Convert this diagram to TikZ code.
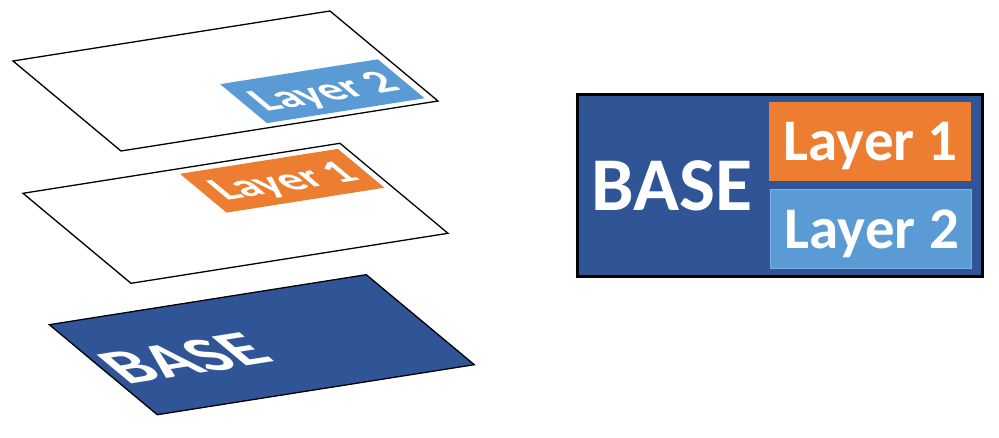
\documentclass[tikz,border=0pt]{standalone}
\usepackage{fontspec}
\setmainfont{Carlito}
\definecolor{baseblue}{HTML}{2F5597}
\definecolor{layorange}{HTML}{ED7D31}
\definecolor{laylblue}{HTML}{5B9BD5}
\definecolor{laylbedge}{HTML}{7DB0E0}
\tikzset{
  planeframe/.style={line width=1.3pt, line join=miter},
  bigframe/.style={line width=3pt},
  basetext/.style={anchor=base, inner sep=0pt, text=white, font=\bfseries\fontsize{76}{76}\selectfont},
  planebasetext/.style={anchor=base, inner sep=0pt, text=white, font=\bfseries\fontsize{90}{90}\selectfont},
  laytext/.style={anchor=base, inner sep=0pt, text=white, font=\bfseries\fontsize{59}{59}\selectfont},
  planecm/.style={cm={0.7817,0.1233,-0.5918,0.4932,#1}, transform shape}
}
\begin{document}
\begin{tikzpicture}[x=1pt,y=1pt]
\useasboundingbox (0,0) rectangle (999,438);
% ---------- top plane (Layer 2) ----------
\begin{scope}[planecm={(13,377)}]
  \draw[planeframe, fill=white] (0,0) -- (405.5,0) -- (405.5,-182.5) -- (0,-182.5) -- cycle;
  \fill[laylblue] (193,-95.2) -- (394.7,-95.2) -- (394.7,-174.2) -- (193,-174.2) -- cycle;
  \node[laytext] (pl2) at (295,-154.5) {Layer 2};
\end{scope}
% ---------- middle plane (Layer 1) ----------
\begin{scope}[planecm={(23,244.7)}]
  \draw[planeframe, fill=white] (0,0) -- (405.5,0) -- (405.5,-182.5) -- (0,-182.5) -- cycle;
  \fill[layorange] (194,-9) -- (396,-9) -- (396,-87.7) -- (194,-87.7) -- cycle;
  \node[laytext] (pl1) at (295.8,-67.7) {Layer 1};
\end{scope}
% ---------- base plane ----------
\begin{scope}[planecm={(49.3,113.3)}]
  \draw[planeframe, fill=baseblue] (0,0) -- (405.5,0) -- (405.5,-182.5) -- (0,-182.5) -- cycle;
  \node[planebasetext] (pbase) at (101.7,-123.8) {BASE};
\end{scope}
% ---------- combined box ----------
\begin{scope}[shift={(577,343.5)}]
  \draw[bigframe, fill=baseblue] (0,0) rectangle (405.5,-182.5);
  \fill[layorange] (192,-7.5) rectangle (394,-86.2);
  \draw[laylbedge, line width=0.8pt, fill=laylblue] (193,-95.2) rectangle (394.7,-174.2);
  \node[basetext] (cbase) at (95.2,-116.2) {BASE};
  \node[laytext] (cl1) at (293.8,-66.2) {Layer 1};
  \node[laytext] (cl2) at (295,-154.5) {Layer 2};
\end{scope}
\end{tikzpicture}
\end{document}
